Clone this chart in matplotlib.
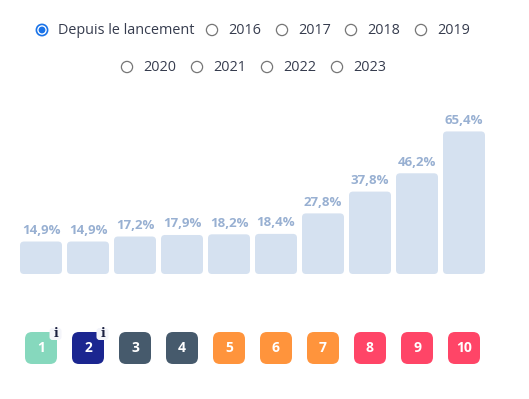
import matplotlib
matplotlib.use("Agg")
import matplotlib.pyplot as plt
from matplotlib.patches import FancyBboxPatch, Circle

# --- donnees -------------------------------------------------------------
periods = ["Depuis le lancement", "2016", "2017", "2018", "2019",
           "2020", "2021", "2022", "2023"]
selected = "Depuis le lancement"
ranks = ["1", "2", "3", "4", "5", "6", "7", "8", "9", "10"]
values = [14.9, 14.9, 17.2, 17.9, 18.2, 18.4, 27.8, 37.8, 46.2, 65.4]
rank_colors = ["#86d8bd", "#1b2690", "#465a6c", "#465a6c", "#ff943c",
               "#ff943c", "#ff943c", "#ff4567", "#ff4567", "#ff4567"]
info_ranks = ["1", "2"]

W, H = 529, 399
BAR_C = "#d5e1f0"
LAB_C = "#98b0d2"
TXT_C = "#363c4e"

plt.rcParams["font.family"] = ["Open Sans", "DejaVu Sans"]
fig = plt.figure(figsize=(W / 100, H / 100), dpi=100)

# fond en pixels pour les boutons radio
bg = fig.add_axes([0, 0, 1, 1])
bg.set_xlim(0, W)
bg.set_ylim(H, 0)
bg.axis("off")

row_x = [[42, 212, 282, 351, 421], [127, 197, 267, 337]]
row_y = [30, 67]
k = 0
for r, xs in enumerate(row_x):
    for cx in xs:
        name = periods[k]
        k += 1
        if name == selected:
            bg.add_patch(Circle((cx, row_y[r]), 5.6, fc="white", ec="#1a73e8", lw=1.2))
            bg.add_patch(Circle((cx, row_y[r]), 3.4, fc="#1a73e8", ec="none"))
        else:
            bg.add_patch(Circle((cx, row_y[r]), 5.6, fc="white", ec="#767676", lw=0.9))
        bg.text(cx + 16, row_y[r] + 0.5, name, fontsize=10.4, color=TXT_C,
                va="center", ha="left")

# --- barres --------------------------------------------------------------
pitch = 47
x0 = 41 - pitch / 2
ymax = 70
ppu = 2.18  # px par %
base_px = H - 274
ax = fig.add_axes([x0 / W, base_px / H, pitch * 10 / W, ymax * ppu / H])
ax.set_xlim(-0.5, 9.5)
ax.set_ylim(0, ymax)
ax.axis("off")

bw = 42 / pitch
asp = (1 / ppu) / (1 / pitch)
for i, v in enumerate(values):
    ax.add_patch(FancyBboxPatch((i - bw / 2, 0), bw, v,
                                boxstyle=f"round,pad=0,rounding_size={4 / pitch}",
                                mutation_aspect=asp, fc=BAR_C, ec="none"))
    ax.text(i, v + 4.5 / ppu, f"{v:.1f}".replace(".", ",") + "%",
            ha="center", va="bottom", fontsize=9.5, fontweight="bold", color=LAB_C)

# --- pastilles de rang ---------------------------------------------------
bh = 50
bx = fig.add_axes([x0 / W, (H - 348 - bh / 2) / H, pitch * 10 / W, bh / H], sharex=ax)
bx.set_ylim(0, bh / pitch)
bx.axis("off")
s = 32 / pitch
cy = bh / 2 / pitch
for i, (lab, col) in enumerate(zip(ranks, rank_colors)):
    bx.add_patch(FancyBboxPatch((i - s / 2, cy - s / 2), s, s,
                                boxstyle=f"round,pad=0,rounding_size={7 / pitch}",
                                fc=col, ec="none"))
    bx.text(i, cy, lab, ha="center", va="center", fontsize=10,
            fontweight="bold", color="white")
    if lab in info_ranks:
        q = 12 / pitch
        qx, qy = i + 14.5 / pitch, cy + 14 / pitch
        bx.add_patch(FancyBboxPatch((qx - q / 2, qy - q / 2), q, q,
                                    boxstyle=f"round,pad=0,rounding_size={3 / pitch}",
                                    fc="#f4f5fa", ec="none"))
        bx.text(qx, qy + 0.5 / pitch, "i", ha="center", va="center", fontsize=9,
                fontweight="bold", color="#1b2040", family="DejaVu Serif")

fig.savefig("out.png", dpi=100)
